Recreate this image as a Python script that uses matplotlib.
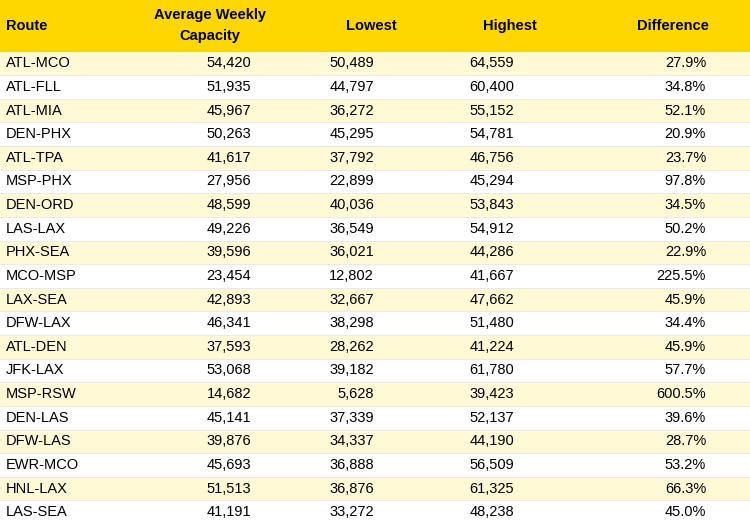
import matplotlib.pyplot as plt

routes = ["ATL-MCO", "ATL-FLL", "ATL-MIA", "DEN-PHX", "ATL-TPA", "MSP-PHX", "DEN-ORD",
          "LAS-LAX", "PHX-SEA", "MCO-MSP", "LAX-SEA", "DFW-LAX", "ATL-DEN", "JFK-LAX",
          "MSP-RSW", "DEN-LAS", "DFW-LAS", "EWR-MCO", "HNL-LAX", "LAS-SEA"]
avg_cap = [54420, 51935, 45967, 50263, 41617, 27956, 48599, 49226, 39596, 23454,
           42893, 46341, 37593, 53068, 14682, 45141, 39876, 45693, 51513, 41191]
lowest = [50489, 44797, 36272, 45295, 37792, 22899, 40036, 36549, 36021, 12802,
          32667, 38298, 28262, 39182, 5628, 37339, 34337, 36888, 36876, 33272]
highest = [64559, 60400, 55152, 54781, 46756, 45294, 53843, 54912, 44286, 41667,
           47662, 51480, 41224, 61780, 39423, 52137, 44190, 56509, 61325, 48238]
diff = ["27.9%", "34.8%", "52.1%", "20.9%", "23.7%", "97.8%", "34.5%", "50.2%", "22.9%", "225.5%",
        "45.9%", "34.4%", "45.9%", "57.7%", "600.5%", "39.6%", "28.7%", "53.2%", "66.3%", "45.0%"]
headers = ["Route", "Average Weekly\nCapacity", "Lowest", "Highest", "Difference"]

plt.rcParams["font.family"] = "Liberation Sans"
fig = plt.figure(figsize=(7.5, 5.24), dpi=100)
ax = fig.add_axes([0, 0, 1, 1])
ax.set_xlim(0, 750)
ax.set_ylim(524, 0)
ax.axis("off")

head_h = 51.5
row_h = (524 - head_h) / len(routes)
ax.barh(head_h / 2, 750, height=head_h, left=0, color="#FFD700")
for i in range(len(routes)):
    yc = head_h + row_h * (i + 0.5)
    ax.barh(yc, 750, height=row_h, left=0,
            color="#FFF9D6" if i % 2 == 0 else "white")
    ax.axhline(head_h + row_h * (i + 1), color="#E6E6E6", lw=0.6)

fs = 10.5
hx = [6, 210, 371, 510, 673]
for k, h in enumerate(headers):
    ax.text(hx[k], head_h / 2, h, ha="left" if k == 0 else "center", va="center",
            fontsize=fs, fontweight="bold", linespacing=1.6)

for i, r in enumerate(routes):
    yc = head_h + row_h * (i + 0.5)
    ax.text(6, yc, r, ha="left", va="center", fontsize=fs)
    ax.text(251, yc, f"{avg_cap[i]:,}", ha="right", va="center", fontsize=fs)
    ax.text(374, yc, f"{lowest[i]:,}", ha="right", va="center", fontsize=fs)
    ax.text(514, yc, f"{highest[i]:,}", ha="right", va="center", fontsize=fs)
    ax.text(706, yc, diff[i], ha="right", va="center", fontsize=fs)

fig.savefig("out.png", dpi=100)
